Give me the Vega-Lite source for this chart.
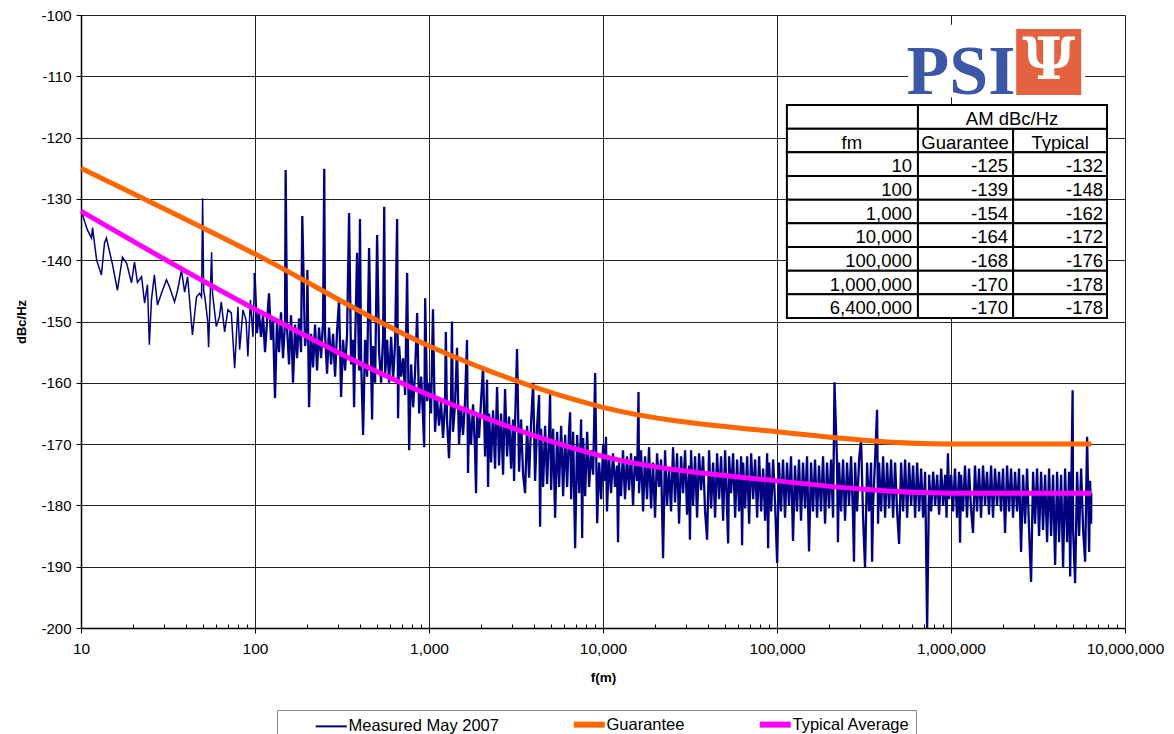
{
"$schema": "https://vega.github.io/schema/vega-lite/v6.json",
"width": 1044, "height": 613,
"autosize": {"type": "none"},
"padding": {"left": 81, "top": 15, "right": 49, "bottom": 106},
"background": "white",
"config": {"font": "Liberation Sans", "view": {"stroke": null}},
"datasets": {
"meas": [
{"f":10,"v":-131.5},{"f":10.3,"v":-133},{"f":10.9,"v":-135.1},{"f":11.5,"v":-136.4},{"f":11.65,"v":-134.7},{"f":12.3,"v":-140},{"f":13.1,"v":-142.4},{"f":13.65,"v":-137.2},{"f":14,"v":-136.4},{"f":15.2,"v":-140.8},{"f":16.2,"v":-144.9},{"f":17.3,"v":-139.5},{"f":18.3,"v":-140.5},{"f":19.5,"v":-143.7},{"f":20.3,"v":-140.3},{"f":21.1,"v":-143.6},{"f":22.3,"v":-142.7},{"f":23.2,"v":-147},{"f":24.1,"v":-144},{"f":24.7,"v":-153.8},{"f":25.4,"v":-146.5},{"f":26.4,"v":-142.4},{"f":27.5,"v":-147.3},{"f":29,"v":-145.4},{"f":31,"v":-143.2},{"f":32.3,"v":-144.4},{"f":34.5,"v":-146.8},{"f":35.9,"v":-144.9},{"f":37.8,"v":-141.6},{"f":39.4,"v":-145.2},{"f":41,"v":-142.7},{"f":43.7,"v":-152.2},{"f":46.1,"v":-146},{"f":48,"v":-145.4},{"f":49.3,"v":-146},{"f":50,"v":-129.9},{"f":50.7,"v":-145},{"f":51.5,"v":-146},{"f":53.4,"v":-149.8},{"f":54.1,"v":-154.2},{"f":56.3,"v":-138.7},{"f":57,"v":-145.4},{"f":59.9,"v":-150.8},{"f":62.5,"v":-149.2},{"f":64,"v":-146.8},{"f":66.9,"v":-151.7},{"f":69.9,"v":-148.1},{"f":73.1,"v":-148.6},{"f":76.4,"v":-157.6},{"f":79.8,"v":-147.6},{"f":81.6,"v":-154.6},{"f":85.3,"v":-148.1},{"f":88.9,"v":-149.8},{"f":91,"v":-155.7},{"f":94.1,"v":-146.5},{"f":97.3,"v":-152.5},{"f":99.5,"v":-142.1},
{"f":102.7,"v":-151.9},{"f":105.4,"v":-148.5},{"f":108.3,"v":-152.5},{"f":111.2,"v":-149},{"f":114.2,"v":-155},{"f":117.2,"v":-150},{"f":120.4,"v":-145.4},{"f":123.6,"v":-153},{"f":126.9,"v":-149.5},{"f":130.3,"v":-162.5},{"f":133.8,"v":-150},{"f":137.4,"v":-155},{"f":141.1,"v":-148.5},{"f":144.9,"v":-156},{"f":148.8,"v":-150},{"f":150,"v":-125.3},{"f":152.8,"v":-151},{"f":156.9,"v":-157},{"f":161.1,"v":-149},{"f":165.4,"v":-160},{"f":169.9,"v":-150.5},{"f":174.4,"v":-156},{"f":179.1,"v":-149.5},{"f":183.9,"v":-155},{"f":187,"v":-132.8},{"f":193.9,"v":-154},{"f":199.1,"v":-151},{"f":200,"v":-141.6},{"f":204.5,"v":-164},{"f":210,"v":-152},{"f":215.6,"v":-157.5},{"f":221.4,"v":-150.5},{"f":227.3,"v":-158},{"f":233.4,"v":-151},{"f":239.7,"v":-156},{"f":246.1,"v":-150},{"f":250,"v":-125.1},{"f":252.7,"v":-152},{"f":259.5,"v":-158.5},{"f":266.5,"v":-151},{"f":273.6,"v":-157},{"f":281,"v":-152},{"f":288.5,"v":-159},{"f":296.3,"v":-151.5},{"f":304.2,"v":-146.5},{"f":312.4,"v":-162.3},{"f":320.7,"v":-153},{"f":329.4,"v":-158},{"f":338.2,"v":-152},{"f":347.3,"v":-132.3},{"f":356.6,"v":-157},{"f":366.2,"v":-153},{"f":371,"v":-164},{"f":376,"v":-154},{"f":386.1,"v":-138.8},{"f":396.5,"v":-158},{"f":401,"v":-133.3},{"f":407.1,"v":-156},{"f":418,"v":-168.5},{"f":429.3,"v":-153},{"f":440.8,"v":-159},{"f":452.6,"v":-138},{"f":464.8,"v":-157},{"f":471,"v":-166},{"f":477.2,"v":-154},{"f":490.1,"v":-160},{"f":503.2,"v":-135.9},{"f":516.7,"v":-155},{"f":530.6,"v":-160},{"f":544.8,"v":-152.5},{"f":553,"v":-131.3},{"f":559.5,"v":-159},{"f":574.5,"v":-153},{"f":589.9,"v":-160},{"f":605.7,"v":-152.5},{"f":622,"v":-159.5},{"f":638.7,"v":-153.5},{"f":655.9,"v":-133.3},{"f":664,"v":-165.8},{"f":673.5,"v":-154},{"f":691.5,"v":-159},{"f":710.1,"v":-156},{"f":729.2,"v":-162},{"f":748.7,"v":-142.1},{"f":768.8,"v":-171},{"f":789.5,"v":-157},{"f":810.7,"v":-164},{"f":832.4,"v":-158},{"f":854.8,"v":-148.6},{"f":877.7,"v":-165},{"f":901.3,"v":-159},{"f":925.5,"v":-166},{"f":938,"v":-170.5},{"f":950.3,"v":-146.2},{"f":975.8,"v":-163},{"f":1002,"v":-160},
{"f":1027,"v":-165},{"f":1054,"v":-148},{"f":1083,"v":-168},{"f":1112,"v":-162.5},{"f":1142,"v":-167},{"f":1172,"v":-163},{"f":1204,"v":-169},{"f":1236,"v":-163.5},{"f":1250,"v":-151.7},{"f":1269,"v":-166},{"f":1303,"v":-172.3},{"f":1338,"v":-163},{"f":1355,"v":-150},{"f":1374,"v":-168},{"f":1411,"v":-163.5},{"f":1449,"v":-154.3},{"f":1488,"v":-170},{"f":1528,"v":-164},{"f":1569,"v":-168.5},{"f":1611,"v":-163},{"f":1654,"v":-153},{"f":1676,"v":-174.7},{"f":1699,"v":-165},{"f":1744,"v":-170},{"f":1791,"v":-163.5},{"f":1839,"v":-171},{"f":1864,"v":-178},{"f":1889,"v":-165},{"f":1939,"v":-169},{"f":1991,"v":-163},{"f":2045,"v":-157.3},{"f":2100,"v":-172},{"f":2156,"v":-159.5},{"f":2185,"v":-177},{"f":2214,"v":-165},{"f":2273,"v":-173},{"f":2334,"v":-164.5},{"f":2397,"v":-174},{"f":2461,"v":-160.7},{"f":2527,"v":-173.5},{"f":2595,"v":-165},{"f":2665,"v":-175},{"f":2736,"v":-161},{"f":2810,"v":-172},{"f":2885,"v":-165.5},{"f":2963,"v":-174},{"f":3042,"v":-166},{"f":3083,"v":-176},{"f":3124,"v":-166.5},{"f":3207,"v":-154.5},{"f":3294,"v":-174.5},{"f":3382,"v":-166},{"f":3473,"v":-175},{"f":3566,"v":-178},{"f":3662,"v":-167},{"f":3760,"v":-175.5},{"f":3861,"v":-166.5},{"f":3965,"v":-160},{"f":4071,"v":-176},{"f":4180,"v":-167},{"f":4293,"v":-162},{"f":4350,"v":-183.5},{"f":4408,"v":-167.5},{"f":4526,"v":-177},{"f":4648,"v":-167},{"f":4772,"v":-176.5},{"f":4901,"v":-168},{"f":4966,"v":-161.8},{"f":5032,"v":-177.5},{"f":5167,"v":-167.5},{"f":5306,"v":-182},{"f":5448,"v":-168},{"f":5595,"v":-177},{"f":5745,"v":-167},{"f":5899,"v":-178.5},{"f":6057,"v":-168.5},{"f":6220,"v":-177},{"f":6387,"v":-167.5},{"f":6470,"v":-164.8},{"f":6559,"v":-179},{"f":6735,"v":-168},{"f":6915,"v":-187},{"f":7101,"v":-168.5},{"f":7292,"v":-178},{"f":7487,"v":-166},{"f":7590,"v":-185.3},{"f":7688,"v":-169},{"f":7895,"v":-178.5},{"f":8107,"v":-168},{"f":8324,"v":-177},{"f":8548,"v":-171},{"f":8777,"v":-175},{"f":9013,"v":-158.4},{"f":9255,"v":-182.9},{"f":9503,"v":-173},{"f":9758,"v":-179},{"f":10020,"v":-170},
{"f":10270,"v":-176},{"f":10400,"v":-168.8},{"f":10540,"v":-181},{"f":10830,"v":-172},{"f":11120,"v":-178},{"f":11420,"v":-171.5},{"f":11720,"v":-177},{"f":12040,"v":-173.5},{"f":12200,"v":-186},{"f":12360,"v":-173},{"f":12690,"v":-178.5},{"f":13030,"v":-171},{"f":13380,"v":-179},{"f":13740,"v":-172},{"f":14110,"v":-177.5},{"f":14490,"v":-171.5},{"f":14880,"v":-180},{"f":15280,"v":-172},{"f":15690,"v":-176},{"f":16000,"v":-161.5},{"f":16110,"v":-178},{"f":16540,"v":-171},{"f":16990,"v":-181},{"f":17440,"v":-172},{"f":17910,"v":-179},{"f":18390,"v":-170.5},{"f":18890,"v":-180.5},{"f":19390,"v":-173},{"f":19910,"v":-182},{"f":20450,"v":-171.5},{"f":21000,"v":-177},{"f":21560,"v":-172.5},{"f":22140,"v":-188.6},{"f":22730,"v":-171},{"f":23340,"v":-180},{"f":23970,"v":-174},{"f":24610,"v":-181},{"f":25270,"v":-170.5},{"f":25950,"v":-179.5},{"f":26650,"v":-171.5},{"f":27360,"v":-183},{"f":28100,"v":-172},{"f":28850,"v":-178},{"f":29630,"v":-171},{"f":30420,"v":-181.5},{"f":31240,"v":-173.5},{"f":31600,"v":-185.6},{"f":32070,"v":-171},{"f":32940,"v":-180},{"f":33820,"v":-172},{"f":34730,"v":-182},{"f":35660,"v":-171.5},{"f":36620,"v":-177.5},{"f":37600,"v":-172},{"f":38610,"v":-181},{"f":39650,"v":-185.6},{"f":40710,"v":-171},{"f":41800,"v":-180.5},{"f":42930,"v":-173},{"f":44080,"v":-182},{"f":45260,"v":-171.5},{"f":46480,"v":-179},{"f":47720,"v":-172},{"f":49010,"v":-182.5},{"f":50320,"v":-171},{"f":51670,"v":-181},{"f":52400,"v":-186.2},{"f":53060,"v":-172},{"f":54480,"v":-178},{"f":55950,"v":-171.5},{"f":57450,"v":-182},{"f":58990,"v":-172.5},{"f":60570,"v":-181},{"f":62200,"v":-172},{"f":63000,"v":-186.5},{"f":63870,"v":-173},{"f":65590,"v":-180.5},{"f":67350,"v":-172},{"f":69150,"v":-183},{"f":71010,"v":-171.5},{"f":72920,"v":-179},{"f":74870,"v":-172.5},{"f":76880,"v":-182},{"f":78950,"v":-172},{"f":81070,"v":-181},{"f":83240,"v":-174},{"f":85480,"v":-182.5},{"f":87770,"v":-171.5},{"f":88900,"v":-187},{"f":90130,"v":-173},{"f":92550,"v":-181},{"f":95030,"v":-172.5},{"f":97580,"v":-180},{"f":100200,"v":-189.4},
{"f":102700,"v":-173},{"f":105400,"v":-181},{"f":108300,"v":-172.5},{"f":111200,"v":-182},{"f":114200,"v":-173},{"f":117200,"v":-180},{"f":120400,"v":-172},{"f":123600,"v":-185.8},{"f":126900,"v":-173.5},{"f":130300,"v":-181},{"f":133800,"v":-172.5},{"f":137400,"v":-182.5},{"f":141100,"v":-173},{"f":144900,"v":-180.5},{"f":148800,"v":-172},{"f":152800,"v":-187.5},{"f":156900,"v":-173},{"f":161100,"v":-181},{"f":165400,"v":-172.5},{"f":169900,"v":-182},{"f":174400,"v":-173.5},{"f":179100,"v":-181},{"f":183900,"v":-172},{"f":188900,"v":-183},{"f":193900,"v":-173},{"f":199100,"v":-180.5},{"f":204500,"v":-172.5},{"f":210000,"v":-182},{"f":214000,"v":-159.9},{"f":221400,"v":-173},{"f":224000,"v":-186},{"f":227300,"v":-173},{"f":233400,"v":-181},{"f":239700,"v":-172.5},{"f":246100,"v":-182.5},{"f":252700,"v":-173},{"f":259500,"v":-180},{"f":266500,"v":-172},{"f":273600,"v":-182},{"f":277000,"v":-189.2},{"f":281000,"v":-173},{"f":288500,"v":-181},{"f":296300,"v":-172.5},{"f":304200,"v":-169.3},{"f":312400,"v":-182},{"f":320700,"v":-190.2},{"f":329400,"v":-173},{"f":338200,"v":-181},{"f":347300,"v":-173},{"f":352000,"v":-189.2},{"f":356600,"v":-180},{"f":366200,"v":-172.5},{"f":376000,"v":-164.4},{"f":381000,"v":-183},{"f":386100,"v":-173},{"f":396500,"v":-181},{"f":407100,"v":-172},{"f":418000,"v":-182},{"f":429300,"v":-173},{"f":440800,"v":-180.5},{"f":452600,"v":-172.5},{"f":464800,"v":-182},{"f":477200,"v":-173},{"f":490100,"v":-181},{"f":503200,"v":-186.3},{"f":516700,"v":-173},{"f":530600,"v":-181},{"f":544800,"v":-172.5},{"f":559500,"v":-182},{"f":574500,"v":-173},{"f":589900,"v":-180},{"f":605700,"v":-173.5},{"f":622000,"v":-182},{"f":638700,"v":-173},{"f":655900,"v":-181},{"f":673500,"v":-174},{"f":691500,"v":-182},{"f":710100,"v":-174.5},{"f":729200,"v":-200},{"f":748700,"v":-175},{"f":768800,"v":-181},{"f":789500,"v":-174.5},{"f":810700,"v":-180},{"f":832400,"v":-175},{"f":854800,"v":-181.5},{"f":877700,"v":-174},{"f":901300,"v":-180},{"f":925500,"v":-175},{"f":943000,"v":-182},{"f":960000,"v":-171.5},{"f":975800,"v":-179},{"f":1002000,"v":-175},
{"f":1027000,"v":-181},{"f":1054000,"v":-174},{"f":1083000,"v":-182},{"f":1112000,"v":-174.5},{"f":1127000,"v":-186.1},{"f":1142000,"v":-175},{"f":1172000,"v":-181},{"f":1204000,"v":-173.5},{"f":1236000,"v":-182},{"f":1269000,"v":-174},{"f":1303000,"v":-180.5},{"f":1338000,"v":-184.5},{"f":1374000,"v":-173.5},{"f":1411000,"v":-181},{"f":1449000,"v":-174},{"f":1488000,"v":-182},{"f":1528000,"v":-173.5},{"f":1569000,"v":-180},{"f":1611000,"v":-174.5},{"f":1654000,"v":-181.5},{"f":1699000,"v":-173.5},{"f":1744000,"v":-182},{"f":1791000,"v":-174},{"f":1839000,"v":-180},{"f":1889000,"v":-174.5},{"f":1939000,"v":-181},{"f":1991000,"v":-174},{"f":2045000,"v":-184.5},{"f":2100000,"v":-173.5},{"f":2156000,"v":-181},{"f":2214000,"v":-174},{"f":2273000,"v":-182},{"f":2334000,"v":-174.5},{"f":2397000,"v":-181},{"f":2461000,"v":-174},{"f":2527000,"v":-187.6},{"f":2595000,"v":-175},{"f":2665000,"v":-183},{"f":2736000,"v":-174},{"f":2810000,"v":-184},{"f":2885000,"v":-192.5},{"f":2963000,"v":-174.5},{"f":3042000,"v":-183},{"f":3124000,"v":-174},{"f":3207000,"v":-185},{"f":3294000,"v":-174.5},{"f":3382000,"v":-184},{"f":3473000,"v":-175},{"f":3566000,"v":-186},{"f":3662000,"v":-174},{"f":3760000,"v":-185},{"f":3861000,"v":-175},{"f":3965000,"v":-189.7},{"f":4071000,"v":-174.5},{"f":4180000,"v":-186},{"f":4293000,"v":-175},{"f":4408000,"v":-190.2},{"f":4526000,"v":-174},{"f":4648000,"v":-186},{"f":4772000,"v":-174.5},{"f":4840000,"v":-191.6},{"f":5000000,"v":-161.2},{"f":5032000,"v":-184},{"f":5167000,"v":-192.7},{"f":5306000,"v":-174.5},{"f":5448000,"v":-185},{"f":5595000,"v":-174},{"f":5745000,"v":-184},{"f":5899000,"v":-189.2},{"f":6057000,"v":-168.8},{"f":6220000,"v":-187.6},{"f":6300000,"v":-176},{"f":6387000,"v":-183},{"f":6400000,"v":-178}
],
"spec": [
{"f":10,"v":-125,"s":"Guarantee"},{"f":100,"v":-139,"s":"Guarantee"},{"f":1000,"v":-154,"s":"Guarantee"},{"f":10000,"v":-164,"s":"Guarantee"},{"f":100000,"v":-168,"s":"Guarantee"},{"f":1000000,"v":-170,"s":"Guarantee"},{"f":6400000,"v":-170,"s":"Guarantee"},
{"f":10,"v":-132,"s":"Typical Average"},{"f":100,"v":-148,"s":"Typical Average"},{"f":1000,"v":-162,"s":"Typical Average"},{"f":10000,"v":-172,"s":"Typical Average"},{"f":100000,"v":-176,"s":"Typical Average"},{"f":1000000,"v":-178,"s":"Typical Average"},{"f":6400000,"v":-178,"s":"Typical Average"}
],
"tbl": [
{"r":"h1","fm":"","g":"","t":""},
{"r":"h2","fm":"fm","g":"Guarantee","t":"Typical"},
{"r":"10","fm":"10","g":"-125","t":"-132"},
{"r":"100","fm":"100","g":"-139","t":"-148"},
{"r":"1,000","fm":"1,000","g":"-154","t":"-162"},
{"r":"10,000","fm":"10,000","g":"-164","t":"-172"},
{"r":"100,000","fm":"100,000","g":"-168","t":"-176"},
{"r":"1,000,000","fm":"1,000,000","g":"-170","t":"-178"},
{"r":"6,400,000","fm":"6,400,000","g":"-170","t":"-178"}
]
},
"layer": [
{"layer": [
 {"data": {"name": "meas"},
  "transform": [{"filter": "datum.f <= 100"}],
  "mark": {"type": "line", "strokeWidth": 1.5, "clip": true},
  "encoding": {
   "x": {"field": "f", "type": "quantitative",
    "scale": {"type": "log", "domain": [10, 10000000], "nice": false},
    "axis": {"title": "f(m)", "titleFontSize": 13.5, "titleFontWeight": "bold", "titleColor": "black", "titlePadding": 14,
     "values": [10,20,30,40,50,60,70,80,90,100,200,300,400,500,600,700,800,900,1000,2000,3000,4000,5000,6000,7000,8000,9000,10000,20000,30000,40000,50000,60000,70000,80000,90000,100000,200000,300000,400000,500000,600000,700000,800000,900000,1000000,2000000,3000000,4000000,5000000,6000000,7000000,8000000,9000000,10000000],
     "labelExpr": "indexof([10,100,1000,10000,100000,1000000,10000000], datum.value) >= 0 ? format(datum.value, ',') : ''",
     "labelOverlap": false, "labelFlush": false, "labelBound": false,
     "labelFontSize": 15.5, "labelColor": "black", "labelPadding": 8,
     "tickColor": "black",
     "tickSize": {"condition": {"test": "indexof([10,100,1000,10000,100000,1000000,10000000], datum.value) >= 0", "value": 5}, "value": -4},
     "grid": true, "gridColor": "#222", "gridWidth": 1,
     "gridOpacity": {"condition": {"test": "indexof([10,100,1000,10000,100000,1000000,10000000], datum.value) >= 0", "value": 1}, "value": 0},
     "domainColor": "black", "domainWidth": 1.5}},
   "y": {"field": "v", "type": "quantitative",
    "scale": {"domain": [-200, -100], "nice": false, "zero": false},
    "axis": {"title": "dBc/Hz", "titleFontSize": 13, "titleFontWeight": "bold", "titleColor": "black", "titlePadding": 12,
     "values": [-200,-190,-180,-170,-160,-150,-140,-130,-120,-110,-100],
     "labelExpr": "'-' + abs(datum.value)",
     "labelFontSize": 15, "labelColor": "black", "labelPadding": 5,
     "tickColor": "black", "tickSize": 5,
     "grid": true, "gridColor": "#222", "gridWidth": 1,
     "domainColor": "black", "domainWidth": 1.5}},
   "color": {"datum": "Measured May 2007"}
  }},
 {"data": {"name": "meas"},
  "transform": [{"filter": "datum.f >= 99"}],
  "mark": {"type": "line", "strokeWidth": 2.3, "clip": true},
  "encoding": {
   "x": {"field": "f", "type": "quantitative"},
   "y": {"field": "v", "type": "quantitative"},
   "color": {"datum": "Measured May 2007"}
  }},
 {"data": {"name": "spec"},
  "mark": {"type": "line", "strokeWidth": 5, "interpolate": "monotone"},
  "encoding": {
   "x": {"field": "f", "type": "quantitative"},
   "y": {"field": "v", "type": "quantitative"},
   "color": {"field": "s", "type": "nominal",
    "scale": {"domain": ["Measured May 2007", "Guarantee", "Typical Average"], "range": ["#000080", "#ff6600", "#ff00ff"]},
    "legend": {"title": null, "orient": "none", "legendX": 196, "legendY": 695, "direction": "horizontal",
     "symbolType": "stroke", "symbolSize": 961, "symbolStrokeWidth": 5, "symbolOffset": 40,
     "labelFontSize": 16.5, "labelColor": "black", "labelOffset": 9,
     "strokeColor": "#888", "fillColor": "white", "padding": 6, "columnPadding": 42,
     "encode": {"symbols": {"update": {"strokeWidth": {"signal": "datum.value === 'Measured May 2007' ? 2 : 6"}}}}}}
  }},
 {"data": {"values": [{}]}, "mark": {"type": "rect", "fill": "white"},
  "encoding": {"x": {"datum": 566000}, "x2": {"datum": 5900000}, "y": {"datum": -101.6}, "y2": {"datum": -113.4}}},
 {"data": {"values": [{}]}, "mark": {"type": "text", "text": "PSI", "font": "Liberation Serif", "fontWeight": "bold", "fontSize": 70, "fill": "#3b57a5", "align": "center", "baseline": "alphabetic"},
  "encoding": {"x": {"datum": 1142000}, "y": {"datum": -112.9}}},
 {"data": {"values": [{}]}, "mark": {"type": "rect", "fill": "#e4623f"},
  "encoding": {"x": {"datum": 2370000}, "x2": {"datum": 5600000}, "y": {"datum": -102.3}, "y2": {"datum": -113.05}}},
 {"data": {"values": [{}]}, "mark": {"type": "text", "text": "Ψ", "font": "DejaVu Serif", "fontWeight": "bold", "fontSize": 58, "fill": "white", "align": "center", "baseline": "middle"},
  "encoding": {"x": {"datum": 3640000}, "y": {"datum": -107.7}}}
]},
{"data": {"name": "tbl"},
 "layer": [
  {"mark": {"type": "rect", "fill": "white", "stroke": "black", "strokeWidth": 2},
   "encoding": {"x": {"datum": 114000}, "x2": {"datum": 645700},
    "y": {"field": "r", "type": "ordinal", "axis": null,
     "scale": {"type": "band", "domain": ["h1","h2","10","100","1,000","10,000","100,000","1,000,000","6,400,000"], "range": [90, 303], "paddingInner": 0, "paddingOuter": 0}}}},
  {"transform": [{"filter": "datum.r !== 'h1'"}],
   "mark": {"type": "rect", "fill": "white", "stroke": "black", "strokeWidth": 2},
   "encoding": {"x": {"datum": 645700}, "x2": {"datum": 2275000}, "y": {"field": "r", "type": "ordinal", "axis": null}}},
  {"transform": [{"filter": "datum.r !== 'h1'"}],
   "mark": {"type": "rect", "fill": "white", "stroke": "black", "strokeWidth": 2},
   "encoding": {"x": {"datum": 2275000}, "x2": {"datum": 7880000}, "y": {"field": "r", "type": "ordinal", "axis": null}}},
  {"transform": [{"filter": "datum.r === 'h1'"}],
   "mark": {"type": "rect", "fill": "white", "stroke": "black", "strokeWidth": 2},
   "encoding": {"x": {"datum": 645700}, "x2": {"datum": 7880000}, "y": {"field": "r", "type": "ordinal", "axis": null}}},
  {"transform": [{"filter": "datum.r !== 'h1' && datum.r !== 'h2'"}],
   "mark": {"type": "text", "align": "right", "baseline": "middle", "fontSize": 18.5, "dy": 2, "fill": "black"},
   "encoding": {"x": {"datum": 597000}, "y": {"field": "r", "type": "ordinal", "axis": null}, "text": {"field": "fm"}}},
  {"transform": [{"filter": "datum.r !== 'h1' && datum.r !== 'h2'"}],
   "mark": {"type": "text", "align": "right", "baseline": "middle", "fontSize": 18.5, "dy": 2, "fill": "black"},
   "encoding": {"x": {"datum": 2130000}, "y": {"field": "r", "type": "ordinal", "axis": null}, "text": {"field": "g"}}},
  {"transform": [{"filter": "datum.r !== 'h1' && datum.r !== 'h2'"}],
   "mark": {"type": "text", "align": "right", "baseline": "middle", "fontSize": 18.5, "dy": 2, "fill": "black"},
   "encoding": {"x": {"datum": 7480000}, "y": {"field": "r", "type": "ordinal", "axis": null}, "text": {"field": "t"}}},
  {"transform": [{"filter": "datum.r === 'h2'"}],
   "mark": {"type": "text", "align": "center", "baseline": "middle", "fontSize": 18.5, "dy": 2, "fill": "black"},
   "encoding": {"x": {"datum": 269000}, "y": {"field": "r", "type": "ordinal", "axis": null}, "text": {"field": "fm"}}},
  {"transform": [{"filter": "datum.r === 'h2'"}],
   "mark": {"type": "text", "align": "center", "baseline": "middle", "fontSize": 18.5, "dy": 2, "fill": "black"},
   "encoding": {"x": {"datum": 1205000}, "y": {"field": "r", "type": "ordinal", "axis": null}, "text": {"field": "g"}}},
  {"transform": [{"filter": "datum.r === 'h2'"}],
   "mark": {"type": "text", "align": "center", "baseline": "middle", "fontSize": 18.5, "dy": 2, "fill": "black"},
   "encoding": {"x": {"datum": 4240000}, "y": {"field": "r", "type": "ordinal", "axis": null}, "text": {"field": "t"}}},
  {"transform": [{"filter": "datum.r === 'h1'"}],
   "mark": {"type": "text", "text": "AM dBc/Hz", "align": "center", "baseline": "middle", "fontSize": 18.5, "dy": 2, "fill": "black"},
   "encoding": {"x": {"datum": 2245000}, "y": {"field": "r", "type": "ordinal", "axis": null}}}
 ]}
],
"resolve": {"scale": {"y": "independent"}}
}
